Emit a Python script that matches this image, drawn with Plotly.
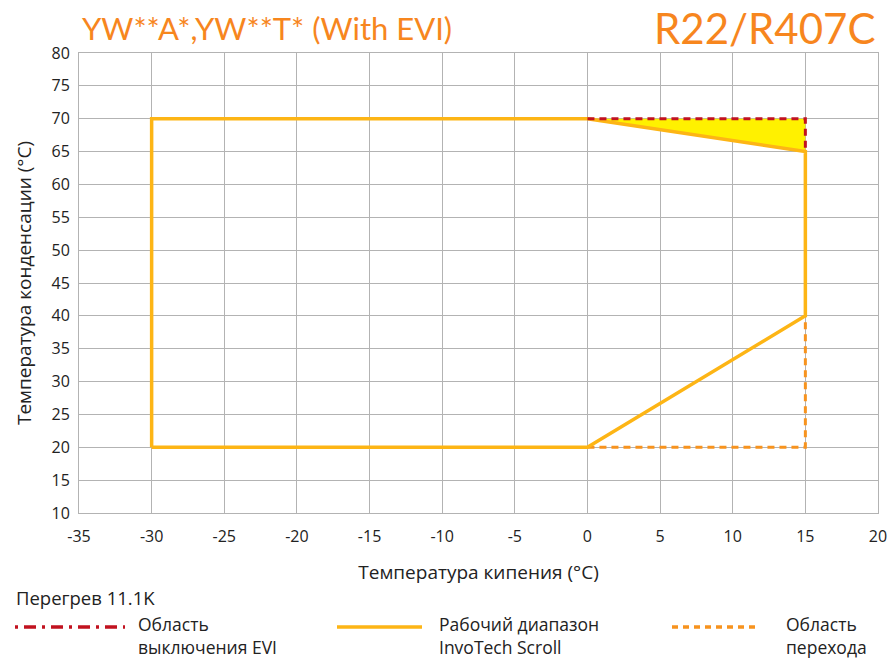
import plotly.graph_objects as go

# рабочий диапазон (огибающая)
env_x = [-30, -30, 0, 15, 15, 0, -30]
env_y = [20, 70, 70, 65, 40, 20, 20]
# область выключения EVI
evi_x = [0, 15, 15]
evi_y = [70, 70, 65]
# область перехода
trans_x = [0, 15, 15]
trans_y = [20, 20, 40]

x_ticks = list(range(-35, 21, 5))
x_labels = [str(v) for v in x_ticks]
y_ticks = list(range(10, 81, 5))

FONT = "Lato"
FONT_CYR = "Open Sans"
C_ENV = "#FDB515"
C_EVI = "#C1121F"
C_TRANS = "#F7931E"
C_FILL = "#FFF100"
C_TITLE = "#F7861E"

fig = go.Figure()

fig.add_trace(go.Scatter(
    x=evi_x + [evi_x[0]], y=evi_y + [evi_y[0]], fill="toself",
    fillcolor=C_FILL, line=dict(width=0), mode="lines",
    hoverinfo="skip", showlegend=False))
fig.add_trace(go.Scatter(
    x=trans_x, y=trans_y, mode="lines",
    line=dict(color=C_TRANS, width=3, dash="7px,5px"), showlegend=False))
fig.add_trace(go.Scatter(
    x=env_x, y=env_y, mode="lines",
    line=dict(color=C_ENV, width=3.5), showlegend=False))
fig.add_trace(go.Scatter(
    x=evi_x, y=evi_y, mode="lines",
    line=dict(color=C_EVI, width=3, dash="7px,5px"), showlegend=False))

axis_common = dict(
    showgrid=True, gridcolor="#b3b3b3", gridwidth=1,
    showline=True, linecolor="#b3b3b3", linewidth=1, mirror=True,
    zeroline=False, ticks="", tickfont=dict(family=FONT_CYR, size=16, color="#222"),
)
fig.update_xaxes(range=[-35, 20], tickvals=x_ticks, ticktext=x_labels,
                 ticklabelstandoff=9, **axis_common,
                 title=dict(text="Температура кипения (°C)", standoff=19,
                            font=dict(family=FONT_CYR, size=19, color="#222")))
fig.update_yaxes(range=[10, 80], tickvals=y_ticks, ticklabelstandoff=5, **axis_common,
                 title=dict(text="Температура конденсации (°C)", standoff=14,
                            font=dict(family=FONT_CYR, size=19, color="#222")))


def px_x(v):
    return (v - 79) / 799


def px_y(v):
    return (659 - v - 146) / 460


ann = [
    ("YW**A*,YW**T* (With EVI)", 80, 28, FONT, 31, C_TITLE),
    ("Перегрев 11.1K", 14, 597, FONT_CYR, 18.5, "#222"),
    ("Область<br>выключения EVI", 136, 635, FONT_CYR, 17.5, "#222"),
    ("Рабочий диапазон<br>InvoTech Scroll", 437, 635, FONT_CYR, 17.5, "#222"),
    ("Область<br>перехода", 784, 635, FONT_CYR, 17.5, "#222"),
]
annotations = []
for text, x, y, fam, size, col in ann:
    annotations.append(dict(
        text=text, xref="paper", yref="paper", showarrow=False,
        x=px_x(x), y=px_y(y), xanchor="left", yanchor="middle", align="left",
        font=dict(family=fam, size=size, color=col)))
annotations.append(dict(
    text="R22/R407C", xref="paper", yref="paper", showarrow=False,
    x=px_x(877), y=px_y(28), xanchor="right", yanchor="middle",
    font=dict(family=FONT, size=42, color=C_TITLE)))

# образцы линий легенды
legend_lines = [
    (15, 125, C_EVI, "3px,6px,12px,6px"),
    (337, 422, C_ENV, "solid"),
    (672, 757, C_TRANS, "6px,5px"),
]
shapes = []
for x0, x1, col, dash in legend_lines:
    shapes.append(dict(type="line", xref="paper", yref="paper",
                       x0=px_x(x0), x1=px_x(x1), y0=px_y(627), y1=px_y(627),
                       line=dict(color=col, width=3.5, dash=dash)))

fig.update_layout(
    width=888, height=659, autosize=False,
    margin=dict(l=79, r=10, t=53, b=146, autoexpand=False),
    paper_bgcolor="white", plot_bgcolor="white",
    font=dict(family=FONT_CYR, color="#222"),
    annotations=annotations, shapes=shapes,
    showlegend=False,
)

fig.write_html(
    "out.html",
    config={"displayModeBar": False, "responsive": False},
    post_script="document.body.style.margin='0';document.body.style.overflow='hidden';",
)
